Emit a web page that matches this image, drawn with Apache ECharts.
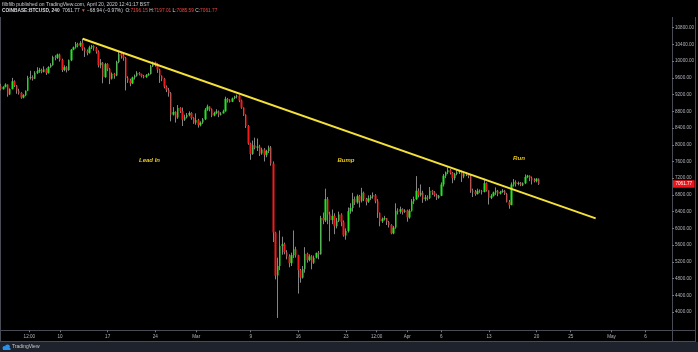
<!DOCTYPE html>
<html>
<head>
<meta charset="utf-8">
<title>BTCUSD 240</title>
<script src="https://cdn.jsdelivr.net/npm/echarts@6.0.0/dist/echarts.min.js"></script>
<style>
    html, body { margin: 0; padding: 0; background: #000; }
    #main { width: 698px; height: 352px; }
</style>
</head>
<body>
<div id="main"></div>
<script>
// COINBASE:BTCUSD, 8h bars from 2020-02-01 00:00 UTC, open = previous close
var startTime = Date.UTC(2020, 1, 1);
var barHours = 8;
var firstOpen = 9350;

var closes = [
    9400, 9330, 9385,   9440, 9200, 9335,   9520, 9420, 9290,   9240, 9130, 9185,   // Feb 1-4
    9290, 9600, 9620,   9580, 9720, 9760,   9790, 9740, 9805,   9720, 9860, 9910,   // Feb 5-8
    10100, 10080, 10160, 10030, 9790, 9855, 9790, 10020, 10275, 10330, 10410, 10370, // Feb 9-12
    10440, 10300, 10240, 10200, 10330, 10365, 10310, 10230, 9900, 9960, 9620, 9930,  // Feb 13-16
    9820, 9580, 9700,   9660, 9980, 10180,  10130, 10080, 9600, 9540, 9470, 9610,   // Feb 17-20
    9650, 9720, 9690,   9640, 9620, 9665,   9690, 9880, 9970,   9930, 9800, 9650,   // Feb 21-24
    9580, 9390, 9315,   9240, 8720, 8785,   8650, 8880, 8805,   8600, 8660, 8710,   // Feb 25-28
    8760, 8640, 8525,   8590, 8470, 8530,   8610, 8840, 8915,   8850, 8700, 8760,   // Feb 29-Mar 3
    8800, 8720, 8750,   8800, 9100, 9060,   9030, 9110, 9155,   9170, 9060, 8890,   // Mar 4-7
    8720, 8450, 8030,   7780, 7990, 7930,   7960, 7790, 7885,   7760, 7850, 7935,   // Mar 8-11
    7550, 5900, 4870,   5100, 5580, 5620,   5430, 5330, 5170,   5360, 5500, 5360,   // Mar 12-15
    5000, 4820, 5030,   5390, 5240, 5330,   5180, 5300, 5415,   5380, 6250, 6190,   // Mar 16-19
    6700, 6330, 6200,   6300, 6050, 6180,   6330, 6150, 5830,   5940, 6410, 6490,   // Mar 20-23
    6700, 6620, 6770,   6660, 6850, 6700,   6640, 6720, 6760,   6790, 6660, 6375,   // Mar 24-27
    6170, 6230, 6250,   6150, 6080, 5880,   6020, 6420, 6400,   6460, 6390, 6430,   // Mar 28-31
    6260, 6420, 6650,   6700, 6900, 6800,   6850, 6700, 6740,   6720, 6900, 6860,   // Apr 1-4
    6800, 6730, 6780,   7050, 7260, 7340,   7390, 7330, 7200,   7300, 7340, 7370,   // Apr 5-8
    7240, 7300, 7295,   7260, 6900, 6870,   6820, 6900, 6890,   6870, 7080, 6910,   // Apr 9-12
    6730, 6780, 6860,   6900, 6830, 6870,   6900, 6830, 6630,   6560, 7050, 7110,   // Apr 13-16
    7060, 7090, 7030,   7080, 7230, 7260,   7200, 7150, 7130,   7190, 7061.77       // Apr 17-20
];

var highs = [
    9430, 9460, 9400,   9470, 9445, 9350,   9600, 9540, 9430,   9340, 9260, 9210,
    9300, 9650, 9770,   9660, 9760, 9855,   9840, 9820, 9875,   9830, 9880, 9950,
    10130, 10140, 10180, 10180, 10060, 9900, 9880, 10040, 10290, 10350, 10460, 10440,
    10480, 10540, 10330, 10280, 10370, 10390, 10380, 10340, 10260, 10050, 9980, 9960,
    9950, 9840, 9730,   9720, 10010, 10230, 10200, 10170, 10100, 9640, 9580, 9630,
    9680, 9760, 9740,   9700, 9670, 9690,   9720, 9910, 9990,   9990, 9950, 9820,
    9660, 9600, 9420,   9360, 9260, 8900,   8800, 8950, 8900,   8890, 8720, 8760,
    8800, 8780, 8660,   8750, 8620, 8560,   8640, 8880, 8960,   8920, 8870, 8790,
    8850, 8820, 8780,   8840, 9150, 9120,   9090, 9130, 9170,   9200, 9185, 9080,
    8895, 8730, 8470,   8050, 8100, 8170,   8150, 8000, 7930,   7920, 7880, 7980,
    7970, 7600, 5920,   5300, 5950, 5800,   5660, 5480, 5380,   5420, 5950, 5560,
    5370, 5030, 5100,   5550, 5420, 5380,   5360, 5350, 5420,   5460, 6300, 6380,
    6950, 6750, 6400,   6450, 6360, 6250,   6400, 6360, 6190,   6000, 6500, 6600,
    6850, 6760, 6810,   6800, 6970, 6880,   6730, 6790, 6800,   6860, 6820, 6700,
    6380, 6260, 6300,   6250, 6180, 6100,   6060, 6600, 6480,   6520, 6480, 6460,
    6450, 6460, 6700,   6760, 7250, 6960,   7050, 6900, 6800,   6790, 6990, 6920,
    6890, 6830, 6800,   7100, 7300, 7360,   7460, 7420, 7350,   7330, 7420, 7400,
    7380, 7330, 7340,   7300, 7280, 6950,   6920, 6950, 6930,   6920, 7190, 7100,
    6910, 6820, 6880,   6980, 6920, 6900,   6940, 6920, 6850,   6680, 7100, 7180,
    7150, 7120, 7110,   7100, 7290, 7280,   7270, 7240, 7200,   7200, 7197.01
];

var lows = [
    9330, 9300, 9320,   9370, 9150, 9190,   9320, 9380, 9220,   9200, 9100, 9110,
    9160, 9280, 9560,   9535, 9570, 9690,   9720, 9710, 9730,   9670, 9700, 9840,
    9890, 10020, 10050, 9990, 9740, 9760,   9730, 9770, 10000,  10260, 10300, 10330,
    10340, 10250, 10100, 10140, 10180, 10290, 10250, 10180, 9850, 9830, 9470, 9600,
    9760, 9450, 9560,   9580, 9640, 9950,   10060, 10010, 9300, 9480, 9400, 9450,
    9560, 9630, 9660,   9610, 9590, 9600,   9650, 9680, 9860,   9870, 9720, 9480,
    9520, 9350, 9260,   9150, 8560, 8700,   8530, 8620, 8760,   8450, 8570, 8630,
    8680, 8600, 8500,   8480, 8410, 8440,   8500, 8590, 8810,   8800, 8660, 8680,
    8730, 8660, 8700,   8750, 8790, 9010,   9010, 9020, 9090,   9110, 9020, 8860,
    8690, 8400, 8000,   7640, 7760, 7890,   7850, 7730, 7760,   7600, 7700, 7800,
    7500, 5670, 4780,   3858, 5000, 5370,   5380, 5260, 5070,   5100, 5290, 5300,
    4440, 4700, 4800,   4940, 5180, 5210,   5020, 5150, 5280,   5260, 5370, 6100,
    6150, 6100, 5690,   6100, 5860, 6000,   6150, 6050, 5800,   5730, 5900, 6350,
    6400, 6560, 6590,   6500, 6620, 6650,   6550, 6610, 6680,   6710, 6600, 6250,
    6050, 6130, 6190,   6080, 6020, 5860,   5860, 5990, 6330,   6350, 6330, 6370,
    6160, 6230, 6400,   6580, 6680, 6740,   6760, 6610, 6650,   6670, 6700, 6800,
    6760, 6680, 6710,   6770, 7000, 7200,   7300, 7290, 7080,   7150, 7270, 7300,
    7110, 7200, 7250,   7200, 6850, 6750,   6780, 6810, 6850,   6810, 6860, 6880,
    6570, 6700, 6760,   6800, 6770, 6810,   6850, 6800, 6620,   6470, 6550, 7000,
    7000, 7030, 7010,   7010, 7060, 7200,   7130, 7050, 7100,   7100, 7040
];

// axis ticks
var xTickTimes = [
    Date.UTC(2020, 1, 5, 12), Date.UTC(2020, 1, 10), Date.UTC(2020, 1, 17), Date.UTC(2020, 1, 24),
    Date.UTC(2020, 2, 1), Date.UTC(2020, 2, 9), Date.UTC(2020, 2, 16), Date.UTC(2020, 2, 23),
    Date.UTC(2020, 2, 27, 12), Date.UTC(2020, 3, 1), Date.UTC(2020, 3, 6), Date.UTC(2020, 3, 13),
    Date.UTC(2020, 3, 20), Date.UTC(2020, 3, 25), Date.UTC(2020, 4, 1), Date.UTC(2020, 4, 6)
];
var xTickLabels = ['12:00', '10', '17', '24', 'Mar', '9', '16', '23', '12:00', 'Apr', '6', '13', '20', '25', 'May', '6'];
var priceTicks = [4000, 4400, 4800, 5200, 5600, 6000, 6400, 6800, 7200, 7600, 8000, 8400, 8800, 9200, 9600, 10000, 10400, 10800];

// drawn trend line and last price
var trendLine = [[Date.UTC(2020, 1, 13, 8), 10537], [Date.UTC(2020, 3, 28, 16), 6240]];
var lastPrice = 7061.77;

var candles = [];
var bodies = [];
for (var i = 0; i < closes.length; i++) {
    var t = startTime + i * barHours * 3600 * 1000;
    var o = i === 0 ? firstOpen : closes[i - 1];
    candles.push([t, o, closes[i], lows[i], highs[i]]);
    bodies.push([t, o, closes[i], Math.min(o, closes[i]), Math.max(o, closes[i])]);
}

var UP = '#22e622', DOWN = '#f01c1c', WICK = '#858585';
var FRAME = '#4a4c55', TXT = '#b2b5be';
var FONT = '"Liberation Sans", Arial, sans-serif';

var myChart = echarts.init(document.getElementById('main'));

var option = {
    backgroundColor: '#000',
    animation: false,
    textStyle: { fontFamily: FONT },
    grid: { left: 1, right: 26, top: 11, bottom: 23.3 },
    xAxis: {
        type: 'value',
        min: Date.UTC(2020, 1, 1, 8),
        max: Date.UTC(2020, 4, 9, 21),
        offset: 1.6,
        axisLine: { show: false },
        axisTick: { show: true, customValues: xTickTimes, length: 2, lineStyle: { color: '#777' } },
        axisLabel: {
            customValues: xTickTimes,
            fontSize: 4.6, color: TXT, margin: 3.5,
            formatter: function (v) {
                var k = xTickTimes.indexOf(v);
                return k < 0 ? '' : xTickLabels[k];
            }
        },
        splitLine: { show: false }
    },
    yAxis: {
        type: 'value',
        position: 'right',
        min: 3600,
        max: 11200,
        axisLine: { show: false },
        axisTick: { show: true, customValues: priceTicks, length: 2, lineStyle: { color: '#777' } },
        axisLabel: {
            customValues: priceTicks,
            fontSize: 4.6, color: TXT, margin: 3,
            formatter: function (v) { return v.toFixed(2); }
        },
        splitLine: { show: false }
    },
    series: [
        {
            type: 'candlestick',
            name: 'wicks',
            data: candles,
            encode: { x: 0, y: [1, 2, 3, 4] },
            barWidth: 1,
            z: 2,
            itemStyle: { color: WICK, color0: WICK, borderColor: WICK, borderColor0: WICK, borderWidth: 1 }
        },
        {
            type: 'candlestick',
            name: 'bodies',
            data: bodies,
            encode: { x: 0, y: [1, 2, 3, 4] },
            barWidth: 2,
            z: 3,
            itemStyle: { color: UP, color0: DOWN, borderColor: UP, borderColor0: DOWN, borderWidth: 0 },
            markLine: {
                silent: true,
                symbol: ['none', 'none'],
                animation: false,
                data: [
                    [
                        { coord: trendLine[0], lineStyle: { color: '#f4e03a', width: 2, type: 'solid' }, label: { show: false } },
                        { coord: trendLine[1] }
                    ],
                    {
                        yAxis: lastPrice,
                        lineStyle: { color: 'rgba(0,0,0,0)', width: 0 },
                        label: {
                            show: true, position: 'end', distance: 1,
                            formatter: lastPrice.toFixed(2),
                            backgroundColor: '#f0141a', color: '#fff',
                            fontSize: 4.6, padding: [1.5, 2.5, 1, 2.5]
                        }
                    }
                ]
            }
        }
    ],
    graphic: [
        // frame
        { type: 'line', shape: { x1: 0.5, y1: 17, x2: 0.5, y2: 341 }, style: { stroke: FRAME, lineWidth: 1 } },
        { type: 'line', shape: { x1: 672.5, y1: 17, x2: 672.5, y2: 341 }, style: { stroke: FRAME, lineWidth: 1 } },
        { type: 'line', shape: { x1: 695.5, y1: 17, x2: 695.5, y2: 341 }, style: { stroke: FRAME, lineWidth: 1 } },
        { type: 'line', shape: { x1: 0, y1: 330.5, x2: 696, y2: 330.5 }, style: { stroke: FRAME, lineWidth: 1 } },
        { type: 'line', shape: { x1: 0, y1: 341.5, x2: 696, y2: 341.5 }, style: { stroke: FRAME, lineWidth: 1 } },
        // footer
        { type: 'rect', shape: { x: 0, y: 342, width: 698, height: 10 }, style: { fill: '#1e222d' } },
        { type: 'circle', shape: { cx: 4.5, cy: 348, r: 2 }, style: { fill: '#2a8fe6' } },
        { type: 'circle', shape: { cx: 7.5, cy: 346.8, r: 2.4 }, style: { fill: '#2a8fe6' } },
        { type: 'rect', shape: { x: 3, y: 348, width: 7.5, height: 2 }, style: { fill: '#2a8fe6' } },
        { type: 'text', x: 12, y: 347, style: { text: 'TradingView', fill: '#c5c8d0', font: '5px ' + FONT, textVerticalAlign: 'middle' } },
        // header
        {
            type: 'text', x: 2, y: 4.7,
            style: { text: 'filbfilb published on TradingView.com, April 20, 2020 12:41:17 BST', fill: '#c8cad0', font: '5px ' + FONT, textVerticalAlign: 'middle' }
        },
        {
            type: 'text', x: 2, y: 10.8,
            style: {
                text: '{b|COINBASE:BTCUSD, 240}{w|  7061.77 }{r|▼}{w| −68.94 (−0.97%)  O:}{r|7196.15}{w| H:}{r|7197.01}{w| L:}{r|7085.59}{w| C:}{r|7061.77}',
                textVerticalAlign: 'middle',
                rich: {
                    b: { fill: '#d8dae0', fontSize: 4.8, fontWeight: 'bold', fontFamily: FONT },
                    w: { fill: '#d8dae0', fontSize: 4.8, fontFamily: FONT },
                    r: { fill: '#ef4a43', fontSize: 4.8, fontFamily: FONT }
                }
            }
        },
        // annotations
        { type: 'text', x: 139, y: 160.3, z: 10, style: { text: 'Lead In', fill: '#e6c51f', font: 'italic bold 6px ' + FONT, textVerticalAlign: 'middle' } },
        { type: 'text', x: 337.5, y: 160.3, z: 10, style: { text: 'Bump', fill: '#e6c51f', font: 'italic bold 6px ' + FONT, textVerticalAlign: 'middle' } },
        { type: 'text', x: 513, y: 158.7, z: 10, style: { text: 'Run', fill: '#e6c51f', font: 'italic bold 6.2px ' + FONT, textVerticalAlign: 'middle' } }
    ]
};

myChart.setOption(option);
</script>
</body>
</html>
